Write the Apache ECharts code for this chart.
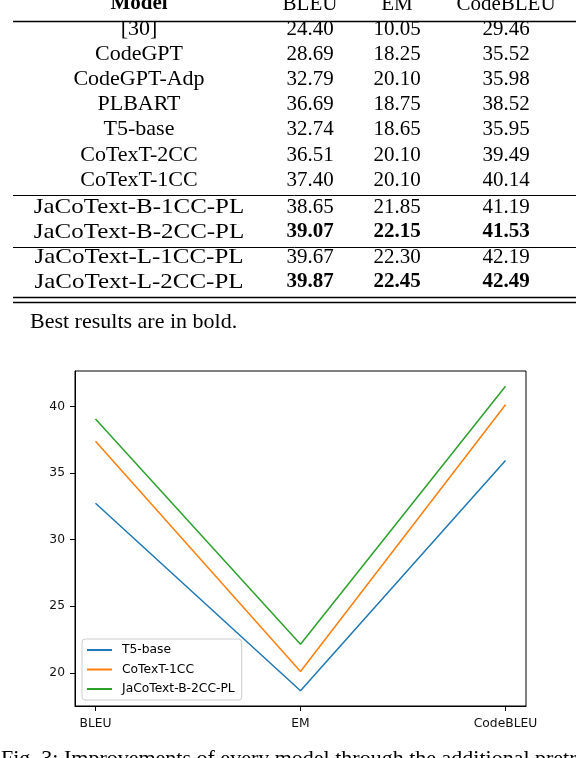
<!DOCTYPE html>
<html>
<head>
<meta charset="utf-8">
<script src="https://cdn.jsdelivr.net/npm/echarts@6/dist/echarts.min.js"></script>
<style>
  html, body { margin: 0; padding: 0; background: #fff; }
  #main { width: 576px; height: 758px; }
</style>
</head>
<body>
<div id="main"></div>
<script>
// table data
var models = ['[30]', 'CodeGPT', 'CodeGPT-Adp', 'PLBART', 'T5-base', 'CoTexT-2CC', 'CoTexT-1CC',
  'JaCoText-B-1CC-PL', 'JaCoText-B-2CC-PL', 'JaCoText-L-1CC-PL', 'JaCoText-L-2CC-PL']
var bleu = ['24.40', '28.69', '32.79', '36.69', '32.74', '36.51', '37.40', '38.65', '39.07', '39.67', '39.87']
var em = ['10.05', '18.25', '20.10', '18.75', '18.65', '20.10', '20.10', '21.85', '22.15', '22.30', '22.45']
var codebleu = ['29.46', '35.52', '35.98', '38.52', '35.95', '39.49', '40.14', '41.19', '41.53', '42.19', '42.49']
var boldRows = ['JaCoText-B-2CC-PL', 'JaCoText-L-2CC-PL']
var metrics = ['BLEU', 'EM', 'CodeBLEU']
// models drawn in the figure
var plotted = ['T5-base', 'CoTexT-1CC', 'JaCoText-B-2CC-PL']
var myColor = ['#1f77b4', '#ff7f0e', '#2ca02c']

var serif = 'Liberation Serif, Times New Roman, serif'
var sans = 'DejaVu Sans, sans-serif'

// row centres of the table (px)
var rowY = [29, 54, 79, 104, 129, 155, 180, 207, 232, 257, 282]
var colX = [139, 310, 397, 506]

var graphic = []
function txt(s, x, y, bold, align, size, sx) {
  graphic.push({
    type: 'text', x: x, y: y, silent: true, scaleX: sx || 1,
    style: {
      text: s, fill: '#000', font: (bold ? 'bold ' : '') + (size || 21) + 'px ' + serif,
      align: align || 'center', verticalAlign: 'middle'
    }
  })
}
function rule(y, w) {
  graphic.push({
    type: 'line', silent: true,
    shape: { x1: 13, y1: y, x2: 576, y2: y },
    style: { stroke: '#000', lineWidth: w }
  })
}

txt('Model', colX[0], 4, true)
txt(metrics[0], colX[1], 4)
txt(metrics[1], colX[2], 4)
txt(metrics[2], colX[3], 4)
rule(21.5, 1.6)
for (let i = 0; i < models.length; ++i) {
  var b = boldRows.indexOf(models[i]) >= 0
  // the JaCoText names are set wider in the source table
  var wide = models[i].indexOf('JaCoText') === 0
  txt(models[i], colX[0], rowY[i], false, 'center', 22, wide ? 1.135 : 1)
  txt(bleu[i], colX[1], rowY[i], b)
  txt(em[i], colX[2], rowY[i], b)
  txt(codebleu[i], colX[3], rowY[i], b)
}
rule(195.5, 1)
rule(247.5, 1)
rule(297.5, 1.4)
rule(302.5, 1.4)
txt('Best results are in bold.', 30, 322, false, 'left', 22)
txt('Fig. 3: Improvements of every model through the additional pretraining', 1, 759, false, 'left', 22)

// series from the table
var series = []
var allVals = []
for (let k = 0; k < plotted.length; ++k) {
  var idx = models.indexOf(plotted[k])
  var vals = [bleu[idx], em[idx], codebleu[idx]].map(Number)
  allVals = allVals.concat(vals)
  series.push({
    name: plotted[k],
    type: 'line',
    symbol: 'none',
    data: vals.map(function (v, j) { return [j, v] }),
    lineStyle: { width: 1.5, color: myColor[k] },
    itemStyle: { color: myColor[k] }
  })
}
// matplotlib style 5% margins
var lo = Math.min.apply(null, allVals), hi = Math.max.apply(null, allVals)
var pad = (hi - lo) * 0.05

var option = {
  backgroundColor: '#fff',
  animation: false,
  graphic: graphic,
  grid: {
    left: 75, top: 371, right: 50, bottom: 52,
    show: true, borderColor: '#000', borderWidth: 1
  },
  legend: {
    orient: 'vertical',
    left: 82, top: 639,
    icon: 'rect',
    itemWidth: 25, itemHeight: 2,
    itemGap: 7.5,
    padding: [5, 7, 5, 5],
    borderColor: '#cccccc', borderWidth: 1, borderRadius: 3,
    backgroundColor: 'rgba(255,255,255,0.8)',
    textStyle: { fontFamily: sans, fontSize: 12.3, color: '#000', padding: [0, 0, 0, 5] },
    data: plotted
  },
  xAxis: {
    type: 'value',
    min: -0.1, max: 2.1,
    splitLine: { show: false },
    axisLine: { show: true, onZero: false, lineStyle: { color: '#000', width: 1 } },
    axisTick: { show: true, length: 5, lineStyle: { color: '#000' }, customValues: [0, 1, 2] },
    axisLabel: {
      customValues: [0, 1, 2],
      margin: 12,
      fontFamily: sans, fontSize: 12.3, color: '#111',
      formatter: function (v) { return metrics[Math.round(v)] }
    }
  },
  yAxis: {
    type: 'value',
    min: lo - pad, max: hi + pad,
    splitLine: { show: false },
    axisLine: { show: true, onZero: false, lineStyle: { color: '#000', width: 1 } },
    axisTick: { show: true, length: 5, lineStyle: { color: '#000' }, customValues: [20, 25, 30, 35, 40] },
    axisLabel: {
      customValues: [20, 25, 30, 35, 40],
      margin: 10,
      fontFamily: sans, fontSize: 12.3, color: '#111'
    }
  },
  series: series
}

var myChart = echarts.init(document.getElementById('main'))
myChart.setOption(option)
</script>
</body>
</html>
